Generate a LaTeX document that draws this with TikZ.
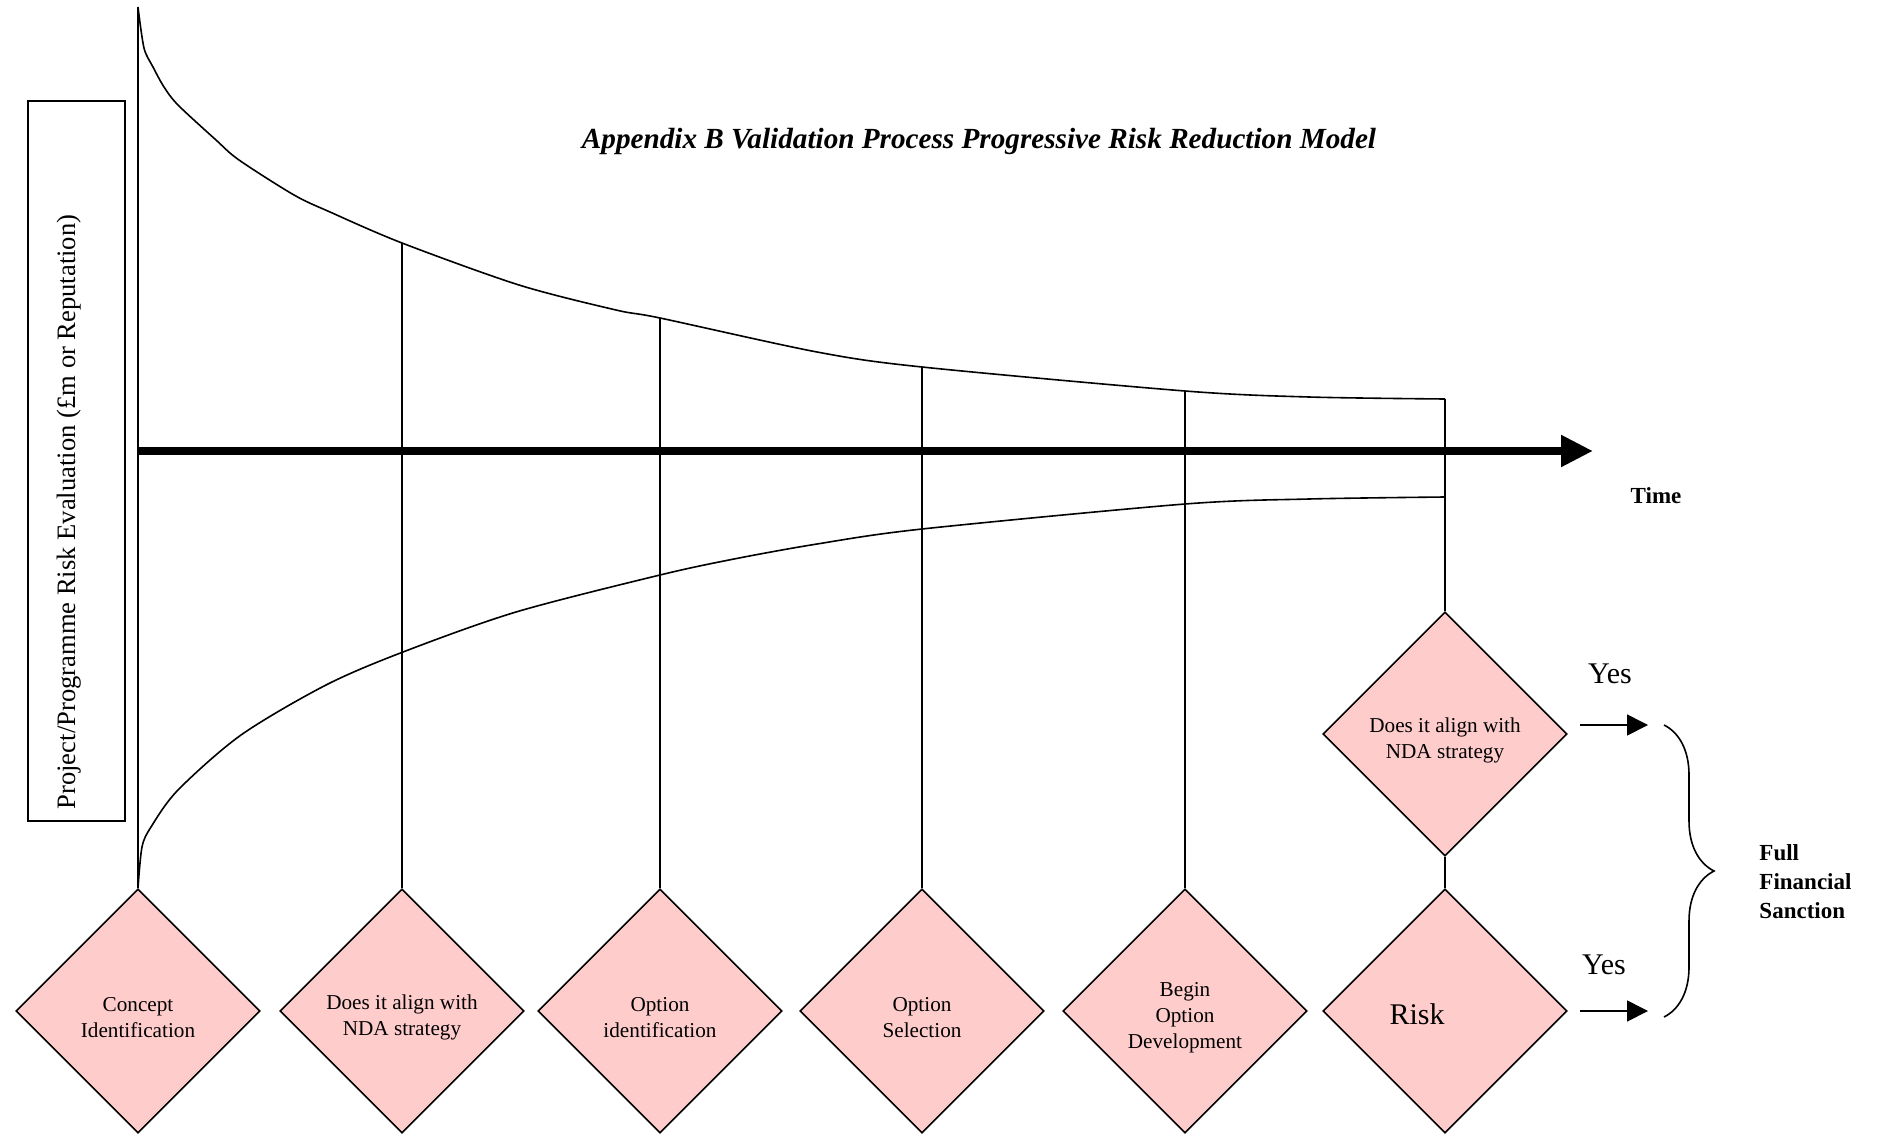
\documentclass[tikz,border=0pt]{standalone}
\usepackage{fontspec}
\setmainfont{Liberation Serif}
\usetikzlibrary{shapes.geometric,arrows.meta,decorations.pathreplacing}
\definecolor{gatepink}{RGB}{255,204,204}

\begin{document}
\begin{tikzpicture}[x=0.5pt,y=-0.5pt,line width=0.8pt,
  gate/.style={diamond,draw,fill=gatepink,aspect=1,inner sep=0pt,
    minimum width=122pt,minimum height=122pt,align=center,
    font=\fontsize{10.6}{13}\selectfont,text height=27pt},
  yesarrow/.style={-{Triangle[length=10.5pt,width=10.5pt]}},
  bigtext/.style={font=\fontsize{15}{18}\selectfont}]
\useasboundingbox (0,0) rectangle (1877,1134);

\node[font=\bfseries\itshape\fontsize{14.6}{17}\selectfont] (title) at (979,141)
  {Appendix B Validation Process Progressive Risk Reduction Model};

\node[draw,minimum width=48.5pt,minimum height=360pt,inner sep=0pt] (box) at (76.5,461) {};
\node[rotate=90,font=\fontsize{13.3}{15}\selectfont] (ylabel) at (69,512)
  {Project/Programme Risk Evaluation (£m or Reputation)};

% gates along the bottom
\node[gate] (concept) at (138,1011) {Concept\\Identification};
\node[gate] (align) at (402,1011) {Does it align with\\NDA strategy};
\node[gate] (optid) at (660,1011) {Option\\identification};
\node[gate] (optsel) at (922,1011) {Option\\Selection};
\node[gate,text height=40pt] (begin) at (1185,1011) {Begin\\Option\\Development};
\node[gate,bigtext,text height=14pt] (risk) at (1445,1011) {Risk\hspace*{28pt}};
\node[gate] (nda) at (1445,734) {Does it align with\\NDA strategy};

% risk envelope
\coordinate (top) at (138,7);
\coordinate (u1) at (402,243);
\coordinate (u2) at (660,318);
\coordinate (u3) at (922,367);
\coordinate (u4) at (1185,391);
\coordinate (u5) at (1445,399);
\draw plot[smooth,tension=0.5] coordinates {(top) (144,48) (153,67) (164,87) (178,105)
  (216,140) (239,160) (294,195) (330,212) (u1) (519,285) (616,310) (u2) (817,352)
  (u3) (u4) (1309,397) (u5)};
\draw plot[smooth,tension=0.5] coordinates {(concept.north) (142,847) (151,827) (178,790)
  (241,735) (326,685) (403,652) (516,612) (660,575) (734,559) (817,544) (922,529)
  (1185,504) (1309,499) (1445,497)};

\draw (top) -- (concept.north);
\draw (u1) -- (align.north);
\draw (u2) -- (optid.north);
\draw (u3) -- (optsel.north);
\draw (u4) -- (begin.north);
\draw (u5) -- (nda.north);
\draw (nda.south) -- (risk.north);

% time axis
\coordinate (origin) at (138,451);
\coordinate (tend) at (1593,451);
\draw[line width=4pt,-{Triangle[length=16pt,width=15pt]}] (origin) -- (tend);
\node[font=\bfseries\fontsize{11.5}{14}\selectfont] (time) at (1656,496) {Time};

% sanction
\coordinate (y1a) at (1580,725);
\coordinate (y1b) at (1648,725);
\coordinate (y2a) at (1580,1011);
\coordinate (y2b) at (1648,1011);
\draw[yesarrow] (y1a) -- (y1b);
\draw[yesarrow] (y2a) -- (y2b);
\node[bigtext] (yes1) at (1610,674) {Yes};
\node[bigtext] (yes2) at (1604,965) {Yes};

\coordinate (btop) at (1664,725);
\coordinate (bbot) at (1664,1017);
\draw[decorate,decoration={brace,amplitude=25pt}] (btop) -- (bbot);
\node[anchor=west,align=left,font=\bfseries\fontsize{11.5}{14.5}\selectfont] (ffs) at (1752,882)
  {Full\\Financial\\Sanction};
\end{tikzpicture}
\end{document}
